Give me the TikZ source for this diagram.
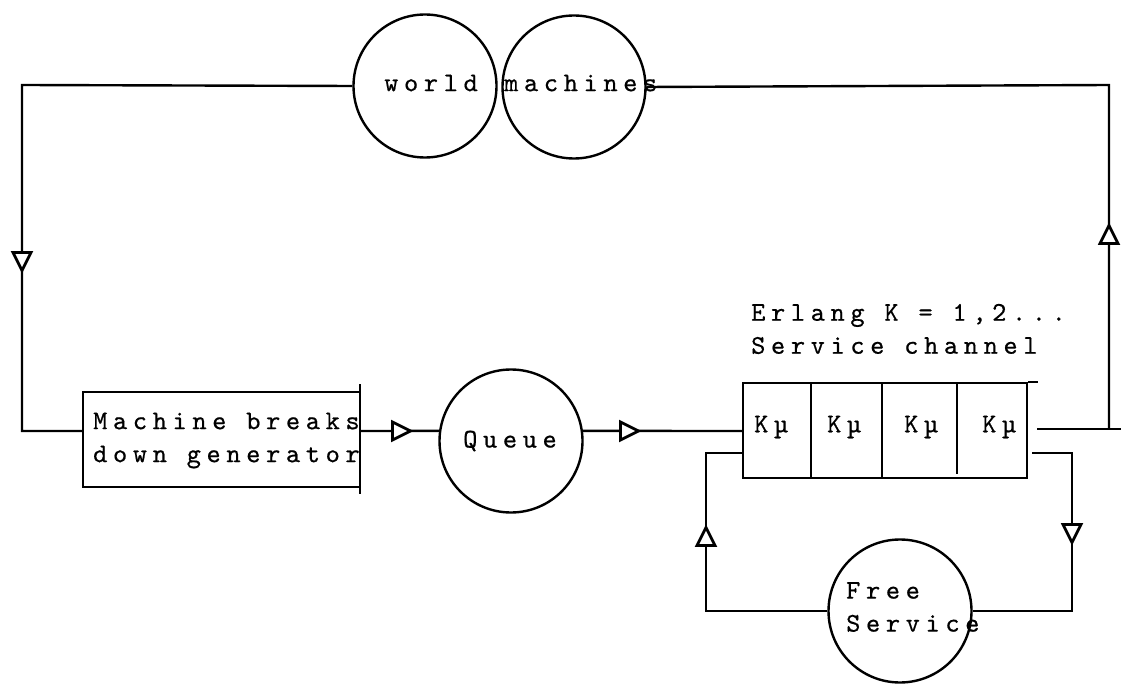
\documentclass[tikz,border=0pt]{standalone}
\usepackage{fontspec}
\setmonofont{lmmono10-regular.otf}[LetterSpace=21,FakeBold=0.6]
\usetikzlibrary{shapes.geometric}
\newcommand\typew{\fontsize{27}{33}\selectfont\ttfamily}
\begin{document}
\begin{tikzpicture}[x=1pt,y=-1pt,
  line width=2.4pt,
  station/.style={circle,draw,line width=2.4pt,minimum size=143pt,inner sep=0pt},
  blockbox/.style={rectangle,draw,line width=2.4pt,inner sep=0pt},
  flowtri/.style={isosceles triangle,isosceles triangle stretches,draw,fill=white,
    line width=2.8pt,minimum height=18pt,minimum width=18pt,inner sep=0pt},
  tw/.style={font=\typew,inner sep=0pt,align=left}]
\useasboundingbox (0,0) rectangle (1121,684);

% stations
\node[station] (world) at (425,86) {};
\node[station] (machines) at (574,87) {};
\node[station] (queue) at (511,441) {};
\node[station] (free) at (900,611) {};

% boxes
\node[blockbox,minimum width=277pt,minimum height=95pt] (gen) at (221.5,439.5) {};
\node[blockbox,minimum width=284pt,minimum height=95pt] (chan) at (885,430.5) {};
\draw (360,384) -- (360,494);
\draw (chan.north east) -- ++(10,0);
\draw (811,383) -- (811,478) (882,383) -- (882,478) (957,383) -- (957,474);

% routing points
\coordinate (lt) at (22,85);
\coordinate (lb) at (22,431);
\coordinate (rt) at (1109,85);
\coordinate (rb) at (1109,429);
\coordinate (redge) at (1121,429);
\coordinate (outL) at (1037,429);
\coordinate (fbR1) at (1032,453);
\coordinate (fbR2) at (1072,453);
\coordinate (fbR3) at (1072,611);
\coordinate (fbL1) at (706,611);
\coordinate (fbL2) at (706,453);

% connectors
\draw (world.west) -- (lt) -- (lb) -- (lb -| gen.west);
\draw (gen.east |- lb) -- (queue.172);
\draw (queue.8) -- (lb -| chan.west);
\draw (outL) -- (redge);
\draw (rb) -- (rt) -- (machines.east);
\draw (fbR1) -- (fbR2) -- (fbR3) -- (free.east);
\draw (free.west) -- (fbL1) -- (fbL2) -- (fbL2 -| chan.west);

% direction marks
\node[flowtri,shape border rotate=270] (d1) at (22,258) {};
\node[flowtri,shape border rotate=0] (d2) at (398,431) {};
\node[flowtri,shape border rotate=0] (d3) at (626,431) {};
\node[flowtri,shape border rotate=90] (d4) at (1109,238) {};
\node[flowtri,shape border rotate=270] (d5) at (1072,530) {};
\node[flowtri,shape border rotate=90] (d6) at (706,540) {};

% texts
\node[tw] (tworld) at (431,83) {world};
\node[tw,anchor=west] (tmach) at (503,83) {machines};
\node[tw] (tqueue) at (510,441) {Queue};
\node[tw,anchor=west] (tgen) at (92,440.5) {Machine breaks\\down generator};
\node[tw,anchor=west] (terl) at (750,329) {Erlang K = 1,2...\\Service channel};
\node[tw,anchor=west] (tfree) at (845,607) {Free\\Service};
\node[tw,anchor=west] (k1) at (753,427) {Kµ};
\node[tw,anchor=west] (k2) at (826,427) {Kµ};
\node[tw,anchor=west] (k3) at (903,427) {Kµ};
\node[tw,anchor=west] (k4) at (981,427) {Kµ};
\end{tikzpicture}
\end{document}
